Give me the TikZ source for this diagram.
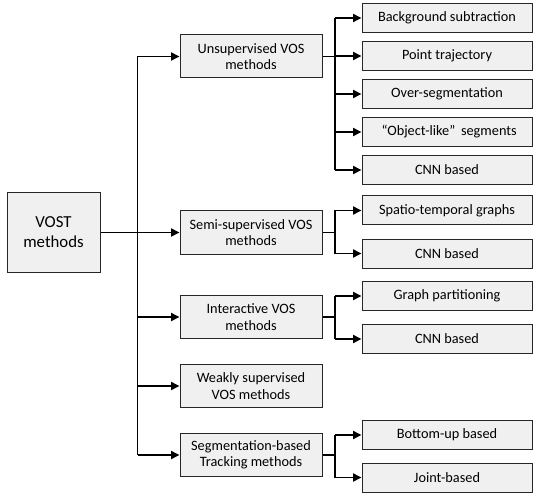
\documentclass[tikz,border=0pt]{standalone}
\usepackage{fontspec}
\setmainfont{Carlito}
\usetikzlibrary{arrows.meta}
\begin{document}
\begin{tikzpicture}[x=1pt,y=-1pt,
  box/.style={draw=black!85, line width=1pt, fill=black!6, align=center, inner sep=0pt, font=\fontsize{14.3}{16.5}\selectfont},
  rootbox/.style={box, minimum width=93pt, minimum height=79pt, font=\fontsize{16.8}{20}\selectfont},
  lone/.style={box, minimum width=142pt, minimum height=43pt},
  ltwo/.style={box, minimum width=170pt, minimum height=29pt},
  conn/.style={line width=1.9pt, -{Triangle[length=8.5pt,width=8pt]}},
  plain/.style={line width=1.9pt}
]
\useasboundingbox (0,0) rectangle (540,494);
% root
\node[rootbox] (vost) at (53.5,232.5) {VOST\\methods};
% level one
\node[lone] (uns) at (251,56.5) {Unsupervised VOS\\methods};
\node[lone] (semi) at (251,232.5) {Semi-supervised VOS\\methods};
\node[lone] (inter) at (251,317) {Interactive VOS\\methods};
\node[lone] (weak) at (251,386) {Weakly supervised\\VOS methods};
\node[lone] (seg) at (251,455) {Segmentation-based\\Tracking methods};
% level two
\node[ltwo] (bg) at (447,18) {Background subtraction};
\node[ltwo] (pt) at (447,56) {Point trajectory};
\node[ltwo] (os) at (447,94) {Over-segmentation};
\node[ltwo] (ol) at (447,132) {\hspace{0.3em}“Object-like”\hspace{0.4em}segments};
\node[ltwo] (cnna) at (447,170) {CNN based};
\node[ltwo] (st) at (447,210.5) {Spatio-temporal graphs};
\node[ltwo] (cnnb) at (447,253.5) {CNN based};
\node[ltwo] (gp) at (447,296) {Graph partitioning};
\node[ltwo] (cnnc) at (447,339) {CNN based};
\node[ltwo] (bu) at (447,435) {Bottom-up based};
\node[ltwo] (jb) at (447,477.5) {Joint-based};
% trunk and forks
\coordinate (t) at (137.5,0);
\coordinate (f) at (335,0);
\draw[plain] (t|-uns.west) -- (t|-seg.west);
\draw[conn] (vost.east) -- (semi.west);
\draw[conn] (t|-uns.west) -- (uns.west);
\draw[conn] (t|-inter.west) -- (inter.west);
\draw[conn] (t|-weak.west) -- (weak.west);
\draw[conn] (t|-seg.west) -- (seg.west);
% unsupervised fork
\draw[plain] (uns.east) -- (f|-uns.east);
\draw[plain] (f|-bg.west) -- (f|-cnna.west);
\foreach \n in {bg,pt,os,ol,cnna} \draw[conn] (f|-\n.west) -- (\n.west);
% semi fork
\draw[plain] (semi.east) -- (f|-semi.east);
\draw[plain] (f|-st.west) -- (f|-cnnb.west);
\foreach \n in {st,cnnb} \draw[conn] (f|-\n.west) -- (\n.west);
% interactive fork
\draw[plain] (inter.east) -- (f|-inter.east);
\draw[plain] (f|-gp.west) -- (f|-cnnc.west);
\foreach \n in {gp,cnnc} \draw[conn] (f|-\n.west) -- (\n.west);
% segmentation fork
\draw[plain] (seg.east) -- (f|-seg.east);
\draw[plain] (f|-bu.west) -- (f|-jb.west);
\foreach \n in {bu,jb} \draw[conn] (f|-\n.west) -- (\n.west);
\end{tikzpicture}
\end{document}
